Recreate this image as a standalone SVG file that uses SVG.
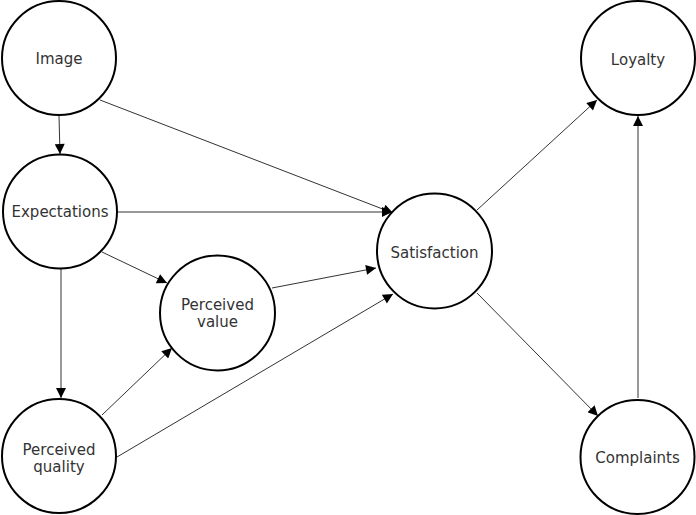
<svg xmlns="http://www.w3.org/2000/svg" width="696" height="515" viewBox="0 0 696 515">
<style>
.node circle{fill:#fff;stroke:#000;stroke-width:2}
.node text{font-family:"DejaVu Sans",Verdana,sans-serif;font-size:15px;fill:#333;text-anchor:middle}
.edges line{stroke:#333;stroke-width:1;marker-end:url(#arr)}
</style>
<defs>
<marker id="arr" viewBox="0 0 10 10" refX="10" refY="5" markerWidth="11" markerHeight="10" markerUnits="userSpaceOnUse" orient="auto">
<path d="M0,0 L10,5 L0,10 z" fill="#000"/>
</marker>
</defs>
<rect width="696" height="515" fill="#fff"/>
<g class="edges">
<line x1="59" y1="116" x2="60" y2="154"/>
<line x1="100" y1="100" x2="393" y2="213"/>
<line x1="118" y1="212" x2="392" y2="212"/>
<line x1="102" y1="252" x2="167" y2="283"/>
<line x1="61" y1="269" x2="61" y2="398"/>
<line x1="102" y1="415" x2="172" y2="348"/>
<line x1="117" y1="457" x2="393" y2="294"/>
<line x1="272" y1="288" x2="376" y2="268"/>
<line x1="477" y1="210" x2="597" y2="100"/>
<line x1="477" y1="293" x2="598" y2="416"/>
<line x1="638" y1="398" x2="638" y2="116"/>
</g>
<g id="image" class="node"><circle cx="59" cy="58" r="57"/><text x="59" y="64">Image</text></g>
<g id="expectations" class="node"><circle cx="60" cy="211.5" r="57"/><text x="60" y="217">Expectations</text></g>
<g id="perceived-quality" class="node"><circle cx="59" cy="456" r="57"/><text x="59" y="455">Perceived</text><text x="59" y="472">quality</text></g>
<g id="perceived-value" class="node"><circle cx="217.5" cy="313" r="57.5"/><text x="217.5" y="310">Perceived</text><text x="217.5" y="327">value</text></g>
<g id="satisfaction" class="node"><circle cx="434.5" cy="251" r="57.5"/><text x="434.5" y="258">Satisfaction</text></g>
<g id="loyalty" class="node"><circle cx="638" cy="58" r="57"/><text x="638" y="65">Loyalty</text></g>
<g id="complaints" class="node"><circle cx="637.5" cy="457" r="57"/><text x="637.5" y="463">Complaints</text></g>
</svg>
